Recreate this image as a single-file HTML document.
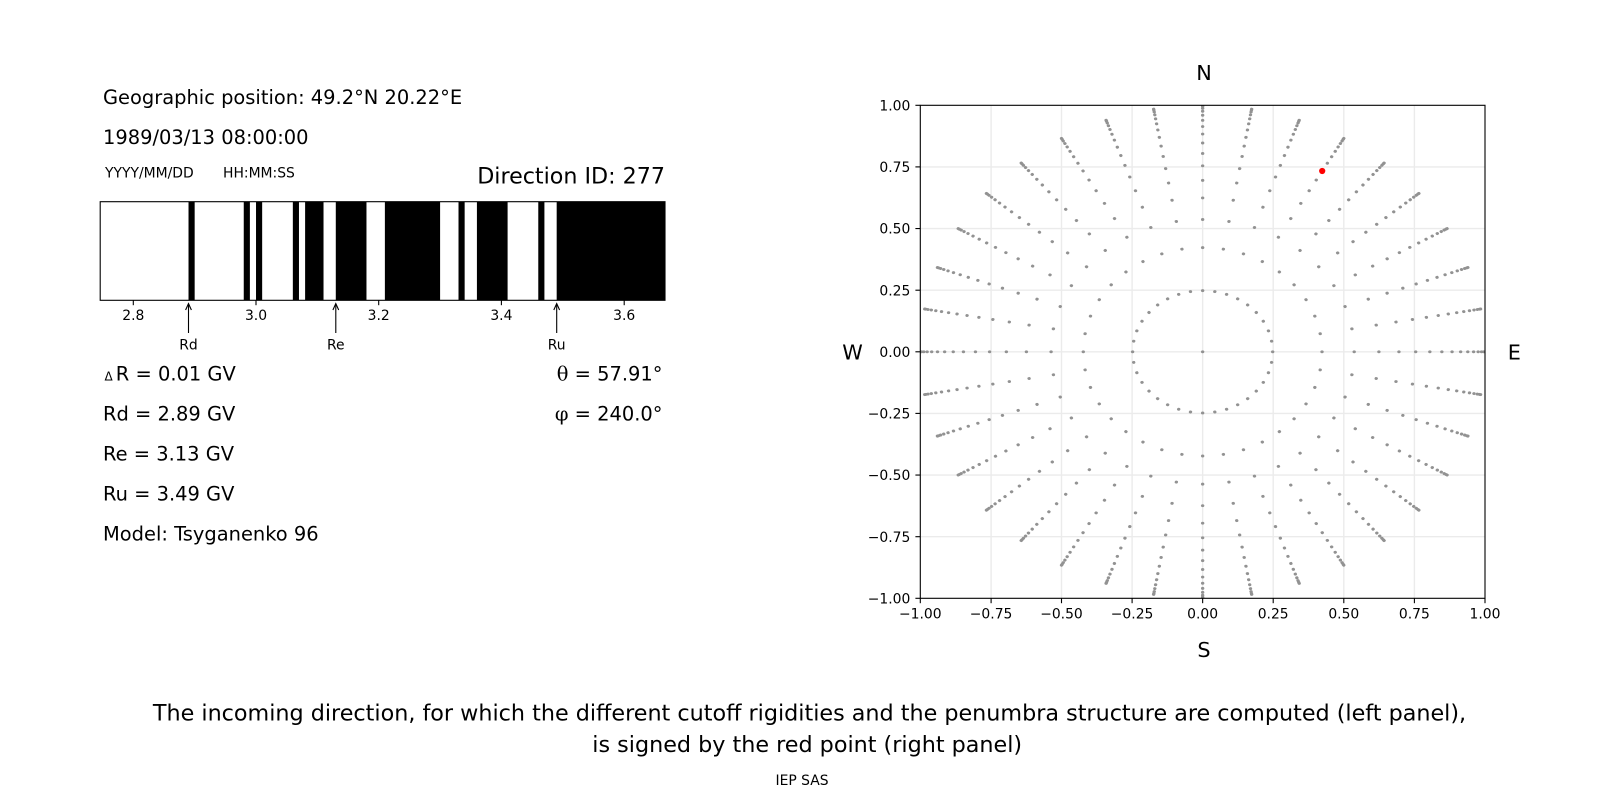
<!DOCTYPE html>
<html>
<head>
<meta charset="utf-8">
<style>
  html, body { margin: 0; padding: 0; background: #ffffff; }
  body { width: 1600px; height: 800px; overflow: hidden; }
  svg { display: block; }
</style>
</head>
<body>
<svg width="1600" height="800" viewBox="0 0 1600 800" xmlns="http://www.w3.org/2000/svg" font-family="'DejaVu Sans', 'Liberation Sans', sans-serif" fill="#000">
  <defs>
    <clipPath id="ax2clip">
      <rect x="920.3" y="105.3" width="564.7" height="493"/>
    </clipPath>
    <g id="ray">
      <circle cx="0" cy="0.24804" r="0.006"/>
      <circle cx="0" cy="0.42274" r="0.006"/>
      <circle cx="0" cy="0.53674" r="0.006"/>
      <circle cx="0" cy="0.62422" r="0.006"/>
      <circle cx="0" cy="0.69527" r="0.006"/>
      <circle cx="0" cy="0.75454" r="0.006"/>
      <circle cx="0" cy="0.80465" r="0.006"/>
      <circle cx="0" cy="0.84722" r="0.006"/>
      <circle cx="0" cy="0.88333" r="0.006"/>
      <circle cx="0" cy="0.91376" r="0.006"/>
      <circle cx="0" cy="0.93906" r="0.006"/>
      <circle cx="0" cy="0.95964" r="0.006"/>
      <circle cx="0" cy="0.97578" r="0.006"/>
      <circle cx="0" cy="0.98772" r="0.006"/>
      <circle cx="0" cy="0.99560" r="0.006"/>
      <circle cx="0" cy="0.99951" r="0.006"/>
    </g>
  </defs>

  <rect x="0" y="0" width="1600" height="800" fill="#ffffff"/>

  <!-- ================= LEFT PANEL TEXT ================= -->
  <text x="103" y="104" font-size="19.44">Geographic position: 49.2°N 20.22°E</text>
  <text x="103" y="144" font-size="19.44">1989/03/13 08:00:00</text>
  <text x="105" y="177.3" font-size="13.9">YYYY/MM/DD</text>
  <text x="223" y="177.3" font-size="13.9">HH:MM:SS</text>
  <text x="665" y="183.3" font-size="22.2" text-anchor="end">Direction ID: 277</text>

  <!-- ================= PENUMBRA BAR ================= -->
  <rect x="100.2" y="201.7" width="564.8" height="98.6" fill="#ffffff"/>
  <g fill="#000000">
    <rect x="188.52" y="201.7" width="6.14" height="98.6"/>
    <rect x="243.75" y="201.7" width="6.13" height="98.6"/>
    <rect x="256.02" y="201.7" width="6.14" height="98.6"/>
    <rect x="292.84" y="201.7" width="6.13" height="98.6"/>
    <rect x="305.11" y="201.7" width="18.41" height="98.6"/>
    <rect x="335.79" y="201.7" width="30.68" height="98.6"/>
    <rect x="384.88" y="201.7" width="55.22" height="98.6"/>
    <rect x="458.51" y="201.7" width="6.14" height="98.6"/>
    <rect x="476.92" y="201.7" width="30.68" height="98.6"/>
    <rect x="538.28" y="201.7" width="6.13" height="98.6"/>
    <rect x="556.68" y="201.7" width="108.32" height="98.6"/>
  </g>
  <rect x="100.2" y="201.7" width="564.8" height="98.6" fill="none" stroke="#000" stroke-width="1.1"/>

  <!-- bar ticks -->
  <g stroke="#000" stroke-width="1.1">
    <line x1="133.3" y1="300.3" x2="133.3" y2="305.2"/>
    <line x1="256.0" y1="300.3" x2="256.0" y2="305.2"/>
    <line x1="378.7" y1="300.3" x2="378.7" y2="305.2"/>
    <line x1="501.4" y1="300.3" x2="501.4" y2="305.2"/>
    <line x1="624.2" y1="300.3" x2="624.2" y2="305.2"/>
  </g>
  <g font-size="13.9" text-anchor="middle">
    <text x="133.3" y="320.2">2.8</text>
    <text x="256.0" y="320.2">3.0</text>
    <text x="378.7" y="320.2">3.2</text>
    <text x="501.4" y="320.2">3.4</text>
    <text x="624.2" y="320.2">3.6</text>
  </g>

  <!-- arrows -->
  <g stroke="#000" stroke-width="1.1" fill="none">
    <line x1="188.5" y1="333" x2="188.5" y2="304"/>
    <path d="M185.6,310 L188.5,303.6 L191.4,310"/>
    <line x1="335.8" y1="333" x2="335.8" y2="304"/>
    <path d="M332.9,310 L335.8,303.6 L338.7,310"/>
    <line x1="556.7" y1="333" x2="556.7" y2="304"/>
    <path d="M553.8,310 L556.7,303.6 L559.6,310"/>
  </g>
  <g font-size="13.9" text-anchor="middle">
    <text x="188.5" y="349.3">Rd</text>
    <text x="335.8" y="349.3">Re</text>
    <text x="556.7" y="349.3">Ru</text>
  </g>

  <!-- values -->
  <text x="104.5" y="380.7" font-size="12">Δ</text>
  <text x="115.8" y="380.7" font-size="19.44">R = 0.01 GV</text>
  <text x="103" y="420.7" font-size="19.44">Rd = 2.89 GV</text>
  <text x="103" y="460.7" font-size="19.44">Re = 3.13 GV</text>
  <text x="103" y="500.7" font-size="19.44">Ru = 3.49 GV</text>
  <text x="103" y="540.6" font-size="19.44">Model: Tsyganenko 96</text>

  <text x="662.5" y="380.7" font-size="19.44" text-anchor="end"><tspan font-family="'DejaVu Serif', 'Liberation Serif', serif">θ</tspan> = 57.91°</text>
  <text x="662.5" y="420.7" font-size="19.44" text-anchor="end"><tspan font-family="'DejaVu Serif', 'Liberation Serif', serif">φ</tspan> = 240.0°</text>

  <!-- ================= RIGHT PANEL ================= -->
  <!-- grid -->
  <g stroke="#ebebeb" stroke-width="1.4">
    <line x1="991.1" y1="105.3" x2="991.1" y2="598.3"/>
    <line x1="1061.5" y1="105.3" x2="1061.5" y2="598.3"/>
    <line x1="1132.1" y1="105.3" x2="1132.1" y2="598.3"/>
    <line x1="1202.65" y1="105.3" x2="1202.65" y2="598.3"/>
    <line x1="1273.2" y1="105.3" x2="1273.2" y2="598.3"/>
    <line x1="1343.8" y1="105.3" x2="1343.8" y2="598.3"/>
    <line x1="1414.4" y1="105.3" x2="1414.4" y2="598.3"/>
    <line x1="920.3" y1="166.9" x2="1485" y2="166.9"/>
    <line x1="920.3" y1="228.55" x2="1485" y2="228.55"/>
    <line x1="920.3" y1="290.2" x2="1485" y2="290.2"/>
    <line x1="920.3" y1="351.8" x2="1485" y2="351.8"/>
    <line x1="920.3" y1="413.4" x2="1485" y2="413.4"/>
    <line x1="920.3" y1="475.05" x2="1485" y2="475.05"/>
    <line x1="920.3" y1="536.7" x2="1485" y2="536.7"/>
  </g>

  <!-- scatter points -->
  <g clip-path="url(#ax2clip)">
    <g transform="translate(1202.65,351.8) scale(282.35,-246.5)" fill="#929292">
      <circle cx="0" cy="0" r="0.006"/>
      <use href="#ray" transform="rotate(0)"/>
      <use href="#ray" transform="rotate(10)"/>
      <use href="#ray" transform="rotate(20)"/>
      <use href="#ray" transform="rotate(30)"/>
      <use href="#ray" transform="rotate(40)"/>
      <use href="#ray" transform="rotate(50)"/>
      <use href="#ray" transform="rotate(60)"/>
      <use href="#ray" transform="rotate(70)"/>
      <use href="#ray" transform="rotate(80)"/>
      <use href="#ray" transform="rotate(90)"/>
      <use href="#ray" transform="rotate(100)"/>
      <use href="#ray" transform="rotate(110)"/>
      <use href="#ray" transform="rotate(120)"/>
      <use href="#ray" transform="rotate(130)"/>
      <use href="#ray" transform="rotate(140)"/>
      <use href="#ray" transform="rotate(150)"/>
      <use href="#ray" transform="rotate(160)"/>
      <use href="#ray" transform="rotate(170)"/>
      <use href="#ray" transform="rotate(180)"/>
      <use href="#ray" transform="rotate(190)"/>
      <use href="#ray" transform="rotate(200)"/>
      <use href="#ray" transform="rotate(210)"/>
      <use href="#ray" transform="rotate(220)"/>
      <use href="#ray" transform="rotate(230)"/>
      <use href="#ray" transform="rotate(240)"/>
      <use href="#ray" transform="rotate(250)"/>
      <use href="#ray" transform="rotate(260)"/>
      <use href="#ray" transform="rotate(270)"/>
      <use href="#ray" transform="rotate(280)"/>
      <use href="#ray" transform="rotate(290)"/>
      <use href="#ray" transform="rotate(300)"/>
      <use href="#ray" transform="rotate(310)"/>
      <use href="#ray" transform="rotate(320)"/>
      <use href="#ray" transform="rotate(330)"/>
      <use href="#ray" transform="rotate(340)"/>
      <use href="#ray" transform="rotate(350)"/>
    </g>
    <circle cx="1322.2" cy="171.0" r="3.1" fill="#ff0000"/>
  </g>

  <!-- axes frame -->
  <rect x="920.3" y="105.3" width="564.7" height="493" fill="none" stroke="#000" stroke-width="1.1"/>

  <!-- ticks -->
  <g stroke="#000" stroke-width="1.1">
    <line x1="920.3" y1="598.3" x2="920.3" y2="603.2"/>
    <line x1="991.1" y1="598.3" x2="991.1" y2="603.2"/>
    <line x1="1061.5" y1="598.3" x2="1061.5" y2="603.2"/>
    <line x1="1132.1" y1="598.3" x2="1132.1" y2="603.2"/>
    <line x1="1202.65" y1="598.3" x2="1202.65" y2="603.2"/>
    <line x1="1273.2" y1="598.3" x2="1273.2" y2="603.2"/>
    <line x1="1343.8" y1="598.3" x2="1343.8" y2="603.2"/>
    <line x1="1414.4" y1="598.3" x2="1414.4" y2="603.2"/>
    <line x1="1485" y1="598.3" x2="1485" y2="603.2"/>

    <line x1="915.4" y1="105.3" x2="920.3" y2="105.3"/>
    <line x1="915.4" y1="166.9" x2="920.3" y2="166.9"/>
    <line x1="915.4" y1="228.55" x2="920.3" y2="228.55"/>
    <line x1="915.4" y1="290.2" x2="920.3" y2="290.2"/>
    <line x1="915.4" y1="351.8" x2="920.3" y2="351.8"/>
    <line x1="915.4" y1="413.4" x2="920.3" y2="413.4"/>
    <line x1="915.4" y1="475.05" x2="920.3" y2="475.05"/>
    <line x1="915.4" y1="536.7" x2="920.3" y2="536.7"/>
    <line x1="915.4" y1="598.3" x2="920.3" y2="598.3"/>
  </g>

  <!-- x tick labels -->
  <g font-size="13.9" text-anchor="middle">
    <text x="920.3" y="618.3">−1.00</text>
    <text x="991.1" y="618.3">−0.75</text>
    <text x="1061.5" y="618.3">−0.50</text>
    <text x="1132.1" y="618.3">−0.25</text>
    <text x="1202.65" y="618.3">0.00</text>
    <text x="1273.2" y="618.3">0.25</text>
    <text x="1343.8" y="618.3">0.50</text>
    <text x="1414.4" y="618.3">0.75</text>
    <text x="1485" y="618.3">1.00</text>
  </g>
  <!-- y tick labels -->
  <g font-size="13.9" text-anchor="end">
    <text x="910.3" y="110.35">1.00</text>
    <text x="910.3" y="171.95">0.75</text>
    <text x="910.3" y="233.6">0.50</text>
    <text x="910.3" y="295.25">0.25</text>
    <text x="910.3" y="356.85">0.00</text>
    <text x="910.3" y="418.45">−0.25</text>
    <text x="910.3" y="480.1">−0.50</text>
    <text x="910.3" y="541.75">−0.75</text>
    <text x="910.3" y="603.35">−1.00</text>
  </g>

  <!-- compass letters -->
  <g font-size="20.8" text-anchor="middle">
    <text x="1204" y="80">N</text>
    <text x="1204" y="657">S</text>
    <text x="852.5" y="359.3">W</text>
    <text x="1514.3" y="359.3">E</text>
  </g>

  <!-- ================= CAPTION ================= -->
  <g font-size="22.28" text-anchor="middle">
    <text x="809.5" y="720.5">The incoming direction, for which the different cutoff rigidities and the penumbra structure are computed (left panel),</text>
    <text x="807.2" y="752">is signed by the red point (right panel)</text>
  </g>
  <text x="802" y="784.8" font-size="13.9" text-anchor="middle">IEP SAS</text>
</svg>
</body>
</html>
